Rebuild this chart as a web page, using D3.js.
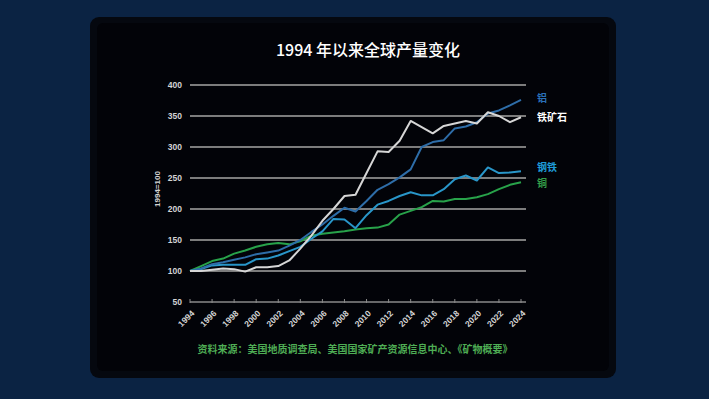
<!DOCTYPE html>
<html>
<head>
<meta charset="utf-8">
<script src="https://cdn.jsdelivr.net/npm/d3@7"></script>
<style>
  html, body { margin: 0; padding: 0; background: #0b2343; }
  svg { display: block; font-family: "Noto Sans CJK SC", "Liberation Sans", sans-serif; }
</style>
</head>
<body>
<div id="chart"></div>
<script>
const years = d3.range(1994, 2025);
const yTicks = [50, 100, 150, 200, 250, 300, 350, 400];
const xTickYears = d3.range(1994, 2025, 2);

const aluminium = [100, 104, 111, 114, 118, 122, 127, 130, 133, 141, 150, 163, 175, 189, 202, 196,
  213, 231, 240, 251, 264, 300, 308, 311, 330, 333, 340, 354, 359, 367, 376];
const ironOre = [100, 100, 102, 104, 103, 99, 106, 106, 108, 117, 136, 157, 181, 200, 221, 223,
  258, 293, 292, 310, 342, 332, 322, 334, 338, 342, 338, 356, 350, 340, 348];
const steel = [100, 103, 109, 110, 110, 110, 119, 120, 125, 132, 139, 152, 164, 184, 183, 169,
  190, 207, 213, 221, 227, 222, 222, 232, 248, 254, 246, 267, 258, 259, 261];
const copper = [100, 108, 116, 120, 128, 133, 139, 143, 145, 143, 148, 157, 160, 162, 164, 167,
  169, 170, 175, 191, 197, 203, 213, 212, 216, 216, 219, 224, 232, 239, 243];

const seriesNames = ['铝', '铁矿石', '钢铁', '铜'];
const seriesValues = [aluminium, ironOre, steel, copper];
const lineColors = ['#2e6da8', '#d6d6d6', '#2996c9', '#28a24a'];
const labelColors = ['#2a70b8', '#ffffff', '#1f9bd8', '#35a04a'];
const labelY = [98, 117, 167, 183];

const title = '1994 年以来全球产量变化';
const yTitle = '1994=100';
const source = '资料来源：美国地质调查局、美国国家矿产资源信息中心、《矿物概要》';

const width = 709, height = 399;
const svg = d3.select('#chart').append('svg')
  .attr('width', width)
  .attr('height', height);

svg.append('rect')
  .attr('width', width).attr('height', height)
  .attr('fill', '#0b2343');

// card
svg.append('rect')
  .attr('x', 90).attr('y', 17)
  .attr('width', 526).attr('height', 361)
  .attr('rx', 9)
  .attr('fill', '#05080f');
svg.append('rect')
  .attr('x', 97).attr('y', 23)
  .attr('width', 512).attr('height', 348)
  .attr('rx', 6)
  .attr('fill', '#020308');

const xScale = d3.scaleLinear().domain([1994, 2024]).range([190, 521]);
const yScale = d3.scaleLinear().domain([50, 400]).range([302, 85]);
const gridRight = 526;

svg.append('text')
  .attr('x', 368).attr('y', 56)
  .attr('text-anchor', 'middle')
  .attr('fill', '#ffffff')
  .style('font-size', '16px')
  .style('font-weight', 500)
  .text(title);

// grid lines
svg.append('g')
  .selectAll('line')
  .data(yTicks.filter(d => d > 50))
  .enter()
  .append('line')
  .attr('x1', xScale(1994)).attr('x2', gridRight)
  .attr('y1', d => yScale(d)).attr('y2', d => yScale(d))
  .attr('stroke', '#7c7c7c')
  .attr('stroke-width', 2);

// bottom axis
const axisY = yScale(50);
svg.append('line')
  .attr('x1', xScale(1994)).attr('x2', gridRight)
  .attr('y1', axisY).attr('y2', axisY)
  .attr('stroke', '#8a8a8a')
  .attr('stroke-width', 1.5);
svg.append('g')
  .selectAll('line')
  .data(xTickYears)
  .enter()
  .append('line')
  .attr('x1', d => xScale(d)).attr('x2', d => xScale(d))
  .attr('y1', axisY - 3).attr('y2', axisY + 1)
  .attr('stroke', '#8a8a8a')
  .attr('stroke-width', 1);

// y labels
svg.append('g')
  .selectAll('text')
  .data(yTicks)
  .enter()
  .append('text')
  .attr('x', 182)
  .attr('y', d => yScale(d) + 3)
  .attr('text-anchor', 'end')
  .attr('fill', '#d4d4d4')
  .style('font-family', '"Liberation Sans", sans-serif')
  .style('font-size', '8.5px')
  .style('font-weight', 'bold')
  .text(d => d);

svg.append('text')
  .attr('transform', 'translate(160,189) rotate(-90)')
  .attr('text-anchor', 'middle')
  .attr('fill', '#d4d4d4')
  .style('font-family', '"Liberation Sans", sans-serif')
  .style('font-size', '8px')
  .style('font-weight', 'bold')
  .text(yTitle);

// x labels
svg.append('g')
  .selectAll('text')
  .data(xTickYears)
  .enter()
  .append('text')
  .attr('transform', d => `translate(${xScale(d) + 5},${axisY + 12}) rotate(-45)`)
  .attr('text-anchor', 'end')
  .attr('fill', '#d4d4d4')
  .style('font-family', '"Liberation Sans", sans-serif')
  .style('font-size', '8.5px')
  .style('font-weight', 'bold')
  .text(d => d);

// lines
const line = d3.line()
  .x((d, i) => xScale(years[i]))
  .y(d => yScale(d));

const drawOrder = [3, 2, 0, 1];
svg.append('g')
  .selectAll('path')
  .data(drawOrder)
  .enter()
  .append('path')
  .attr('d', k => line(seriesValues[k]))
  .attr('fill', 'none')
  .attr('stroke', k => lineColors[k])
  .attr('stroke-width', 2)
  .attr('stroke-linejoin', 'round');

// legend labels
svg.append('g')
  .selectAll('text')
  .data(seriesNames)
  .enter()
  .append('text')
  .attr('x', 537)
  .attr('y', (d, k) => labelY[k] + 4)
  .attr('fill', (d, k) => labelColors[k])
  .style('font-size', '10px')
  .style('font-weight', 'bold')
  .text(d => d);

svg.append('text')
  .attr('x', 355).attr('y', 353)
  .attr('text-anchor', 'middle')
  .attr('fill', '#4fae55')
  .style('font-size', '10px')
  .style('font-weight', 'bold')
  .text(source);
</script>
</body>
</html>
